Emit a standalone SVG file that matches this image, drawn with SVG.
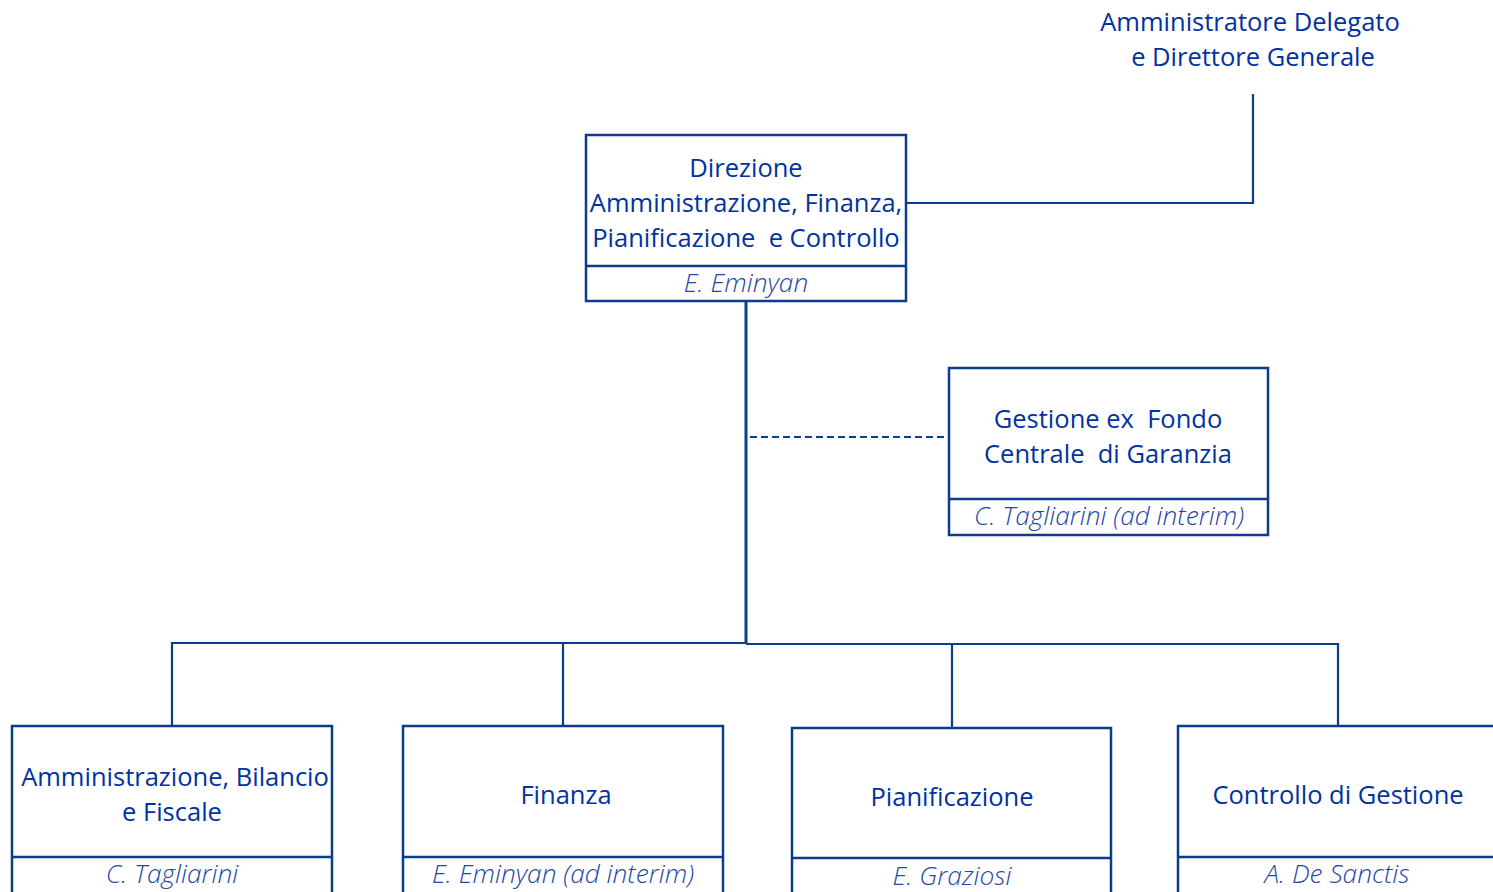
<svg xmlns="http://www.w3.org/2000/svg" width="1493" height="892" viewBox="0 0 1493 892">
<style>
.box{fill:#fff;stroke:#0b3d8c;stroke-width:2.5}
.div{stroke:#0b3d8c;stroke-width:2.5}
.t{font-family:"Open Sans","Liberation Sans",sans-serif;font-size:25.5px;fill:#0033a0;text-anchor:middle}
.n{font-family:"Open Sans","Liberation Sans",sans-serif;font-size:26.3px;font-style:italic;font-weight:300;fill:#1f48a8;text-anchor:middle}
.c{fill:none;stroke:#0b3d8c;stroke-width:2.2}
</style>
<rect width="1493" height="892" fill="#fff"/>
<g id="connectors">
<polyline class="c" points="1253,94 1253,203 906,203"/>
<line class="c" x1="746" y1="301" x2="746" y2="643" style="stroke-width:3"/>
<line class="c" x1="750" y1="437" x2="948" y2="437" stroke-dasharray="7,4"/>
<polyline class="c" points="172,726 172,643 746,643"/>
<polyline class="c" points="746,644 1338,644 1338,726"/>
<line class="c" x1="563" y1="643" x2="563" y2="726"/>
<line class="c" x1="952" y1="644" x2="952" y2="728"/>
</g>
<g id="ad">
<text class="t" x="1250" y="31">Amministratore Delegato</text>
<text class="t" x="1253" y="66">e Direttore Generale</text>
</g>
<g id="direzione">
<rect class="box" x="586" y="135" width="320" height="166"/>
<line class="div" x1="586" y1="266" x2="906" y2="266"/>
<text class="t" x="746" y="177">Direzione</text>
<text class="t" x="746" y="212">Amministrazione, Finanza,</text>
<text class="t" x="746" y="247" xml:space="preserve">Pianificazione  e Controllo</text>
<text class="n" x="746" y="292">E. Eminyan</text>
</g>
<g id="gestione">
<rect class="box" x="949" y="368" width="319" height="167"/>
<line class="div" x1="949" y1="499" x2="1268" y2="499"/>
<text class="t" x="1108" y="428" xml:space="preserve">Gestione ex  Fondo</text>
<text class="t" x="1108" y="463" xml:space="preserve">Centrale  di Garanzia</text>
<text class="n" x="1109" y="525">C. Tagliarini (ad interim)</text>
</g>
<g id="amministrazione">
<rect class="box" x="12" y="726" width="320" height="180"/>
<line class="div" x1="12" y1="857" x2="332" y2="857"/>
<text class="t" x="175" y="786">Amministrazione, Bilancio</text>
<text class="t" x="172" y="821">e Fiscale</text>
<text class="n" x="172" y="883">C. Tagliarini</text>
</g>
<g id="finanza">
<rect class="box" x="403" y="726" width="320" height="180"/>
<line class="div" x1="403" y1="857" x2="723" y2="857"/>
<text class="t" x="566" y="804">Finanza</text>
<text class="n" x="563" y="883">E. Eminyan (ad interim)</text>
</g>
<g id="pianificazione">
<rect class="box" x="792" y="728" width="319" height="180"/>
<line class="div" x1="792" y1="858" x2="1111" y2="858"/>
<text class="t" x="952" y="806">Pianificazione</text>
<text class="n" x="952" y="885">E. Graziosi</text>
</g>
<g id="controllo">
<rect class="box" x="1178" y="726" width="330" height="180"/>
<line class="div" x1="1178" y1="857" x2="1508" y2="857"/>
<text class="t" x="1338" y="804">Controllo di Gestione</text>
<text class="n" x="1337" y="883">A. De Sanctis</text>
</g>
</svg>
